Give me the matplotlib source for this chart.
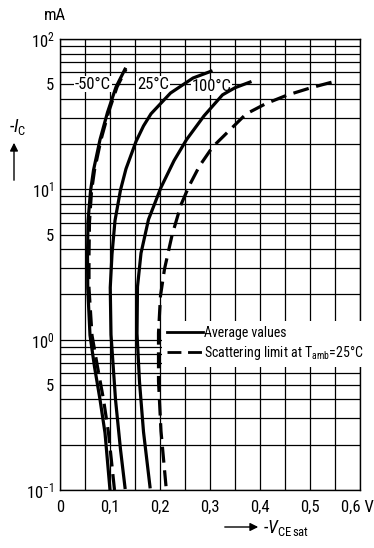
import matplotlib
matplotlib.use('Agg')
import matplotlib.pyplot as plt
import matplotlib.transforms as mtransforms
from matplotlib import font_manager as fm
from matplotlib.lines import Line2D

# ---------------- data ----------------
# -I_C in mA, -V_CEsat in V
i_m50 = [0.1, 0.24, 0.40, 0.66, 1.07, 2.2, 3.65, 6.1, 9.7, 13.4, 21.4, 32.5, 47.9, 63]
v_m50 = [0.100, 0.090, 0.080, 0.069, 0.060, 0.0555, 0.055, 0.056, 0.061, 0.067, 0.080, 0.095, 0.112, 0.130]

i_low = [0.1, 0.24, 0.40, 0.66, 1.07, 2.2, 3.65, 6.1, 9.7, 13.4, 21.4, 32.5, 47.9, 63]
v_low = [0.109, 0.097, 0.087, 0.075, 0.064, 0.058, 0.058, 0.059, 0.063, 0.069, 0.082, 0.097, 0.114, 0.132]

i_25 = [0.104, 0.186, 0.40, 1.08, 2.22, 3.7, 6.2, 9.9, 13.7, 20.8, 26.4, 31.8, 43.7, 55, 61]
v_25 = [0.130, 0.121, 0.111, 0.102, 0.1005, 0.104, 0.110, 0.121, 0.132, 0.152, 0.167, 0.182, 0.221, 0.266, 0.302]

i_100 = [0.105, 0.244, 0.524, 1.10, 2.25, 3.76, 6.3, 10.3, 15.5, 21.4, 30.8, 42.5, 47.4, 51.7]
v_100 = [0.180, 0.167, 0.159, 0.154, 0.155, 0.162, 0.177, 0.202, 0.228, 0.253, 0.288, 0.325, 0.350, 0.380]

i_high = [0.106, 0.246, 0.53, 1.11, 1.96, 2.95, 4.94, 7.9, 10.5, 14.3, 19.1, 31.7, 37.2, 42.3, 47.3, 52.3]
v_high = [0.212, 0.202, 0.197, 0.197, 0.201, 0.209, 0.224, 0.242, 0.258, 0.279, 0.305, 0.372, 0.412, 0.454, 0.501, 0.550]

x_ticks = [0, 0.1, 0.2, 0.3, 0.4, 0.5, 0.6]
x_ticklabels = ["0", "0,1", "0,2", "0,3", "0,4", "0,5", "0,6 V"]
y_ticks = [0.1, 0.5, 1, 5, 10, 50, 100]
y_ticklabels = [r"10$^{-1}$", "5", r"10$^{0}$", "5", r"10$^{1}$", "5", r"10$^{2}$"]

curve_labels = ["-50°C", "25°C", "100°C"]
curve_label_pos = [(0.066, 50), (0.186, 50), (0.303, 48)]
legend_labels = ["Average values", r"Scattering limit at T$_{\mathrm{amb}}$=25°C"]

# ---------------- fonts ----------------
def have(name):
    try:
        fm.findfont(fm.FontProperties(family=name), fallback_to_default=False)
        return True
    except Exception:
        return False

fam = 'DejaVu Sans'
for cand in ['Roboto Condensed', 'Archivo Narrow', 'PT Sans Narrow', 'Liberation Sans Narrow']:
    if have(cand):
        fam = cand
        break
plt.rcParams['font.family'] = [fam, 'DejaVu Sans']
plt.rcParams['mathtext.fontset'] = 'custom'
plt.rcParams['mathtext.rm'] = fam
plt.rcParams['mathtext.it'] = fam + ':italic'
plt.rcParams['mathtext.bf'] = fam + ':bold'

W, H = 374, 548
fig = plt.figure(figsize=(W / 100, H / 100), dpi=100)
fig.patch.set_facecolor('white')

L, R, T, B = 60, 360, 39, 490
ax = fig.add_axes([L / W, 1 - B / H, (R - L) / W, (B - T) / H])
ax.set_yscale('log')
ax.set_xlim(0, 0.6)
ax.set_ylim(0.1, 100)

# grid
for k in range(13):
    ax.axvline(0.05 * k, color='black', lw=0.9, zorder=1)
for dec in [0.1, 1, 10]:
    for m in range(1, 10):
        ax.axhline(dec * m, color='black', lw=0.9, zorder=1)
ax.axhline(100, color='black', lw=0.9, zorder=1)

for s in ax.spines.values():
    s.set_linewidth(1.0)

lw = 2.3
dash = (0, (5, 2.4))
ax.plot(v_m50, i_m50, color='black', lw=lw, zorder=3)
ax.plot(v_low, i_low, color='black', lw=lw, ls=dash, zorder=3)
ax.plot(v_25, i_25, color='black', lw=lw, zorder=3)
ax.plot(v_100, i_100, color='black', lw=lw, zorder=3)
ax.plot(v_high, i_high, color='black', lw=lw, ls=dash, zorder=3)

for txt, (xv, yv) in zip(curve_labels, curve_label_pos):
    ax.text(xv, yv, txt, fontsize=12, ha='center', va='center', zorder=2,
            bbox=dict(facecolor='white', edgecolor='none', pad=0.5))

# ticks
ax.set_xticks(x_ticks)
ax.set_xticklabels(x_ticklabels, fontsize=12)
ax.set_yticks(y_ticks)
ax.set_yticklabels(y_ticklabels, fontsize=12)
ax.yaxis.set_minor_locator(matplotlib.ticker.NullLocator())
ax.tick_params(axis='both', length=0)
ax.tick_params(axis='x', pad=7)
ax.tick_params(axis='y', pad=4)
last = ax.get_xticklabels()[-1]
last.set_transform(last.get_transform() +
                   mtransforms.ScaledTranslation(-0.03, 0, fig.dpi_scale_trans))

# legend
handles = [Line2D([], [], color='black', lw=2.0),
           Line2D([], [], color='black', lw=2.0, ls=(0, (5, 2.4)))]
leg = ax.legend(handles, legend_labels, loc='upper left', bbox_to_anchor=(0.34, 0.375),
                frameon=True, fancybox=False, facecolor='white', edgecolor='none',
                framealpha=1, fontsize=10, handlelength=2.6, handletextpad=0.1,
                labelspacing=0.3, borderpad=0.35, borderaxespad=0)
leg.set_zorder(5)

# extra texts
fig.text(55 / W, 1 - 15 / H, "mA", fontsize=12, ha='center', va='center')
fig.text(18 / W, 1 - 127 / H, r"-$I_\mathrm{C}$", fontsize=13, ha='center', va='center')
fig.text(263 / W, 1 - 528 / H, r"-$V_{\mathrm{CE\,sat}}$", fontsize=13, ha='left', va='center')

fig.patches.append(matplotlib.patches.FancyArrowPatch(
    (14 / W, 1 - 183 / H), (14 / W, 1 - 140 / H), transform=fig.transFigure,
    arrowstyle='-|>', mutation_scale=12, color='black', lw=1.0))
fig.patches.append(matplotlib.patches.FancyArrowPatch(
    (222 / W, 1 - 527 / H), (261 / W, 1 - 527 / H), transform=fig.transFigure,
    arrowstyle='-|>', mutation_scale=12, color='black', lw=1.0))

fig.savefig('out.png', dpi=100, facecolor='white')
